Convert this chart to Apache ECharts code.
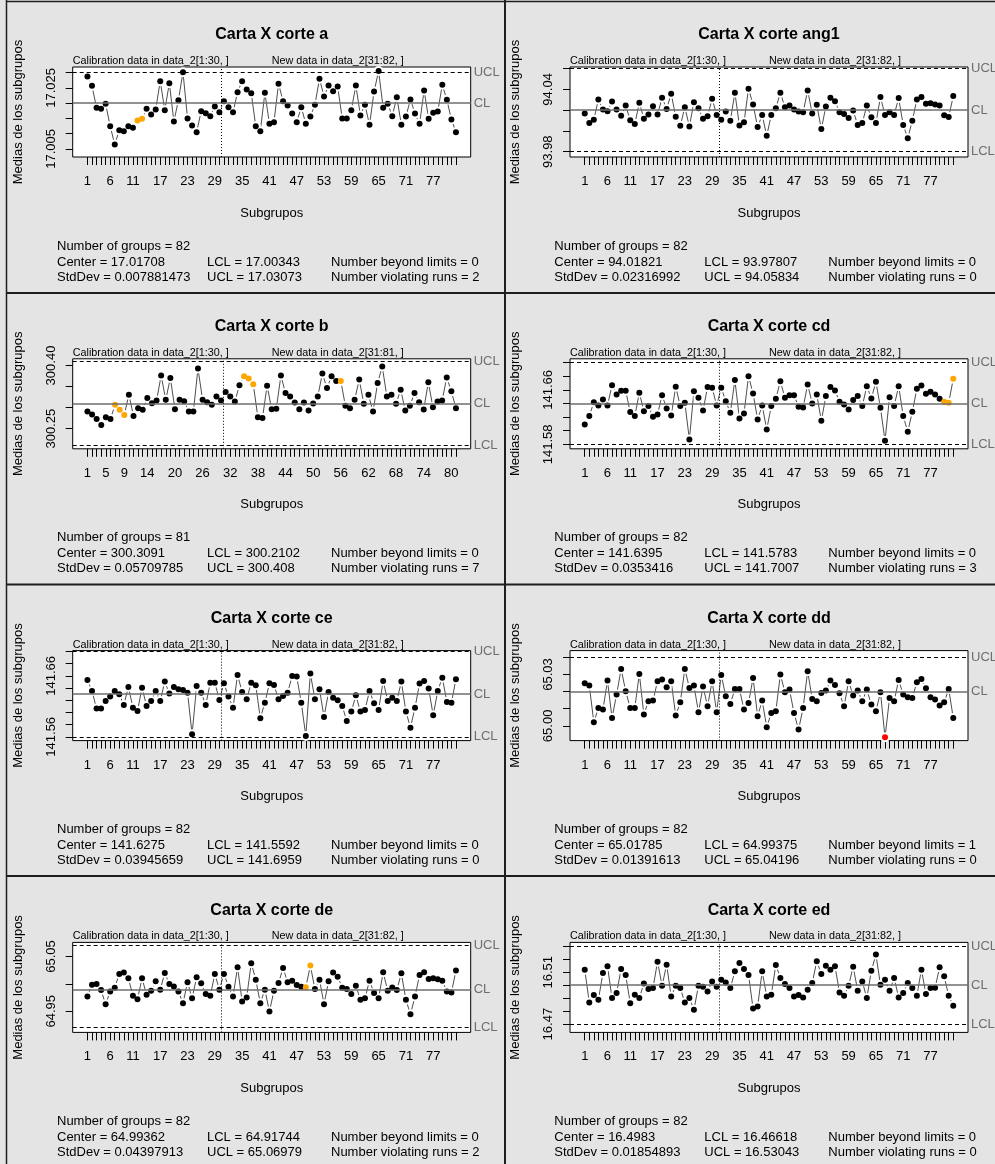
<!DOCTYPE html>
<html>
<head>
<meta charset="utf-8">
<script src="https://cdn.jsdelivr.net/npm/echarts@6/dist/echarts.min.js"></script>
<style>
  html, body { margin: 0; padding: 0; background: #e4e4e4; }
  #chart { width: 995px; height: 1164px; }
</style>
</head>
<body>
<div id="chart"></div>
<script>
// Subgroup means for each cut (X-bar charts, calibration 1:30)
const corteA = [
  17.02872, 17.02566, 17.01844, 17.01811, 17.01975, 17.01243, 17.00642, 17.01112, 17.01079, 17.01243,
  17.01189, 17.01429, 17.01484, 17.01811, 17.01626, 17.01790, 17.02719, 17.01768, 17.02653, 17.01396,
  17.02096, 17.03014, 17.01495, 17.01265, 17.01046, 17.01735, 17.01669, 17.01571, 17.01888, 17.01702,
  17.02063, 17.01866, 17.01702, 17.02358, 17.02719, 17.02445, 17.02325, 17.01243, 17.01079, 17.02336,
  17.01320, 17.01374, 17.02631, 17.02063, 17.01921, 17.01658, 17.01374, 17.01866, 17.01320, 17.01560,
  17.01943, 17.02795, 17.02216, 17.02577, 17.02391, 17.02544, 17.01495, 17.01495, 17.01768, 17.02577,
  17.01593, 17.01943, 17.01287, 17.02380, 17.03050, 17.01844, 17.01975, 17.01571, 17.02194, 17.01287,
  17.01560, 17.02117, 17.01658, 17.01320, 17.02413, 17.01484, 17.01680, 17.01724, 17.02598, 17.02107,
  17.01462, 17.01046
];
const corteAng1 = [
  94.01665, 94.00757, 94.01081, 94.03027, 94.02054, 94.01892, 94.02833, 94.02054, 94.01470, 94.02443,
  94.01016, 94.00660, 94.02703, 94.01179, 94.01568, 94.02378, 94.01568, 94.03189, 94.02119, 94.03578,
  94.01373, 94.00498, 94.02281, 94.00433, 94.02768, 94.02184, 94.01179, 94.01406, 94.03092, 94.01535,
  94.01081, 94.01860, 94.00984, 94.03676, 94.00530, 94.00822, 94.04065, 94.02541, 94.00368, 94.01535,
  93.99525, 94.01535, 94.02184, 94.03676, 94.02281, 94.02443, 94.02054, 94.01860, 94.01795, 94.03903,
  94.01665, 94.02508, 94.00173, 94.02346, 94.03189, 94.02865, 94.01795, 94.01633, 94.01243, 94.01957,
  94.00562, 94.00757, 94.02443, 94.01308, 94.00757, 94.03254, 94.01535, 94.01795, 94.01535, 94.03157,
  94.00562, 93.99298, 94.00984, 94.03027, 94.03254, 94.02606, 94.02670, 94.02541, 94.02443, 94.01503,
  94.01341, 94.03351
];
const corteB = [
  300.2907, 300.2835, 300.2731, 300.2588, 300.2771, 300.2731, 300.3066, 300.2947, 300.2827, 300.3306,
  300.2803, 300.2987, 300.2947, 300.3226, 300.3106, 300.3170, 300.3761, 300.3186, 300.3705, 300.2963,
  300.3186, 300.3154, 300.2907, 300.2907, 300.3928, 300.3186, 300.3130, 300.3066, 300.3266, 300.3170,
  300.3370, 300.3266, 300.3146, 300.3529, 300.3745, 300.3689, 300.3553, 300.2771, 300.2755, 300.3521,
  300.2963, 300.2971, 300.3761, 300.3346, 300.3266, 300.3122, 300.2963, 300.3122, 300.2931, 300.3100,
  300.3266, 300.3808, 300.3465, 300.3745, 300.3633, 300.3633, 300.3042, 300.2987, 300.3186, 300.3665,
  300.3090, 300.3306, 300.2907, 300.3585, 300.3976, 300.3266, 300.3306, 300.3090, 300.3425, 300.2931,
  300.3042, 300.3346, 300.3130, 300.2955, 300.3601, 300.3010, 300.3146, 300.3170, 300.3713, 300.3386,
  300.2987
];
const corteCd = [
  141.6091, 141.6214, 141.6419, 141.6371, 141.6459, 141.6371, 141.6669, 141.6532, 141.6586, 141.6586,
  141.6273, 141.6214, 141.6557, 141.6287, 141.6361, 141.6204, 141.6238, 141.6522, 141.6326, 141.6224,
  141.6645, 141.6361, 141.6410, 141.5871, 141.6581, 141.6483, 141.6297, 141.6640, 141.6630, 141.6371,
  141.6630, 141.6434, 141.6263, 141.6743, 141.6180, 141.6253, 141.6801, 141.6547, 141.6165, 141.6371,
  141.6018, 141.6361, 141.6468, 141.6728, 141.6483, 141.6522, 141.6522, 141.6351, 141.6341, 141.6679,
  141.6400, 141.6532, 141.6145, 141.6508, 141.6640, 141.6591, 141.6424, 141.6385, 141.6312, 141.6449,
  141.6508, 141.6361, 141.6654, 141.6473, 141.6718, 141.6336, 141.5852, 141.6493, 141.6361, 141.6654,
  141.6214, 141.5984, 141.6278, 141.6615, 141.6664, 141.6542, 141.6571, 141.6532, 141.6468, 141.6424,
  141.6410, 141.6762
];
const corteCe = [
  141.6532, 141.6352, 141.6062, 141.6062, 141.6188, 141.6259, 141.6352, 141.6297, 141.6122, 141.6417,
  141.6078, 141.6023, 141.6406, 141.6105, 141.6188, 141.6352, 141.6188, 141.6505, 141.6308, 141.6417,
  141.6379, 141.6368, 141.6324, 141.5641, 141.6434, 141.6324, 141.6122, 141.6488, 141.6488, 141.6204,
  141.6477, 141.6259, 141.6078, 141.6614, 141.6335, 141.6215, 141.6488, 141.6445, 141.5903, 141.6160,
  141.6477, 141.6450, 141.6215, 141.6270, 141.6324, 141.6598, 141.6587, 141.6160, 141.5613, 141.6636,
  141.6215, 141.6379, 141.5925, 141.6335, 141.6242, 141.6198, 141.6105, 141.5859, 141.6013, 141.6280,
  141.6013, 141.6040, 141.6352, 141.6149, 141.6040, 141.6516, 141.6188, 141.6242, 141.6188, 141.6505,
  141.6013, 141.5750, 141.6078, 141.6472, 141.6516, 141.6390, 141.5952, 141.6352, 141.6570, 141.6171,
  141.6160, 141.6543
];
const corteDd = [
  65.02485, 65.02349, 65.00210, 65.01046, 65.00949, 65.02640, 65.00463, 65.01824, 65.03321, 65.02018,
  65.01046, 65.01046, 65.03029, 65.00657, 65.01435, 65.01474, 65.02601, 65.02699, 65.02252, 65.02601,
  65.00599, 65.01377, 65.03321, 65.02213, 65.02349, 65.00794, 65.02290, 65.01143, 65.02601, 65.00794,
  65.02971, 65.01727, 65.01280, 65.02154, 65.02154, 65.00949, 65.01338, 65.02796, 65.00560, 65.01474,
  64.99919, 65.00755, 65.00852, 65.02990, 65.01960, 65.02115, 65.00755, 64.99783, 65.01046, 65.03185,
  65.01571, 65.01435, 65.01921, 65.02057, 65.02640, 65.02388, 65.01902, 65.01143, 65.02601, 65.01766,
  65.02057, 65.01435, 65.02115, 65.01241, 65.00852, 65.01960, 64.99336, 65.01629, 65.01435, 65.02679,
  65.01824, 65.01668, 65.01629, 65.02543, 65.02738, 65.02193, 65.01668, 65.01532, 65.01182, 65.01377,
  65.02154, 65.00463
];
const corteDe = [
  64.97703, 64.99853, 64.99976, 64.98871, 64.96291, 64.98625, 64.99300, 65.01819, 65.02065, 65.01021,
  64.97826, 64.97212, 65.01021, 64.98011, 64.98748, 65.00468, 64.98932, 65.02003, 64.99976, 64.99546,
  64.98625, 64.96475, 65.00283, 64.97396, 65.01205, 65.00099, 64.98133, 64.97826, 65.01819, 64.98932,
  65.01819, 64.99485, 64.97703, 65.03048, 64.96782, 64.97519, 65.03785, 65.00775, 64.96475, 64.98932,
  64.94939, 64.98748, 65.00161, 65.02925, 65.00283, 65.00591, 64.99792, 64.99485, 64.99400, 65.03355,
  64.99055, 65.00775, 64.96291, 65.00468, 65.02065, 65.01328, 64.99320, 64.99055, 64.98133, 64.99669,
  64.97089, 64.97396, 65.00591, 64.98318, 64.97396, 65.02126, 64.98748, 64.99340, 64.98871, 65.01942,
  64.97089, 64.94448, 64.97703, 65.01635, 65.02126, 65.00898, 65.01021, 65.00836, 65.00591, 64.98625,
  64.98441, 65.02434
];
const corteEd = [
  16.51197, 16.48669, 16.49237, 16.48875, 16.50939, 16.51455, 16.49004, 16.49391, 16.51249, 16.50785,
  16.48617, 16.49262, 16.49004, 16.50140, 16.49701, 16.49778, 16.51817, 16.49959, 16.51584, 16.49133,
  16.49959, 16.49778, 16.48669, 16.49004, 16.48101, 16.49959, 16.49882, 16.49520, 16.50294, 16.49882,
  16.50423, 16.50217, 16.49778, 16.51068, 16.51713, 16.51249, 16.50785, 16.48205, 16.48359, 16.51068,
  16.49133, 16.49262, 16.51559, 16.50552, 16.50088, 16.49778, 16.49133, 16.49237, 16.49056, 16.49649,
  16.50165, 16.51842, 16.50862, 16.51507, 16.51197, 16.51455, 16.49443, 16.49185, 16.49959, 16.51430,
  16.49572, 16.50294, 16.49004, 16.51120, 16.52358, 16.50036, 16.50423, 16.49572, 16.50552, 16.49056,
  16.49391, 16.50165, 16.49778, 16.49185, 16.51197, 16.49314, 16.49778, 16.49800, 16.51378, 16.50681,
  16.49185, 16.48411
];

const panelNames = ['a', 'ang1', 'b', 'cd', 'ce', 'dd', 'de', 'ed'];
const panelData = [corteA, corteAng1, corteB, corteCd, corteCe, corteDd, corteDe, corteEd];
const centers = [17.01708, 94.01821, 300.3091, 141.6395, 141.6275, 65.01785, 64.99362, 16.4983];
const lcls = [17.00343, 93.97807, 300.2102, 141.5783, 141.5592, 64.99375, 64.91744, 16.46618];
const ucls = [17.03073, 94.05834, 300.408, 141.7007, 141.6959, 65.04196, 65.06979, 16.53043];
const stdDevs = [0.007881473, 0.02316992, 0.05709785, 0.0353416, 0.03945659, 0.01391613, 0.04397913, 0.01854893];
const beyondLimits = [0, 0, 0, 0, 0, 1, 0, 0];
const violatingRuns = [2, 0, 7, 3, 0, 0, 2, 0];
// subgroup numbers flagged by the run rule and by the limits
const runPoints = [[12, 13], [], [7, 8, 9, 35, 36, 37, 56], [80, 81, 82], [], [], [49, 50], []];
const beyondPoints = [[], [], [], [], [], [67], [], []];
const calibrationSize = 30;

// axis ticks and the tick labels that are printed
const yTicks = [
  [17.005, 17.010, 17.015, 17.020, 17.025, 17.030],
  [93.98, 94.00, 94.02, 94.04, 94.06],
  [300.25, 300.30, 300.35, 300.40],
  [141.58, 141.60, 141.62, 141.64, 141.66, 141.68, 141.70],
  [141.56, 141.58, 141.60, 141.62, 141.64, 141.66, 141.68, 141.70],
  [65.00, 65.01, 65.02, 65.03, 65.04],
  [64.95, 65.00, 65.05],
  [16.47, 16.48, 16.49, 16.50, 16.51, 16.52, 16.53]
];
const yTickLabels = [
  [17.025, 17.005], [94.04, 93.98], [300.40, 300.25], [141.66, 141.58],
  [141.66, 141.56], [65.03, 65.00], [65.05, 64.95], [16.51, 16.47]
];
const yLabelDigits = [3, 2, 2, 2, 2, 2, 2, 2];
const xLabels82 = [1, 6, 11, 17, 23, 29, 35, 41, 47, 53, 59, 65, 71, 77];
const xLabels81 = [1, 5, 9, 14, 20, 26, 32, 38, 44, 50, 56, 62, 68, 74, 80];
const xTickLabels = [xLabels82, xLabels82, xLabels81, xLabels82, xLabels82, xLabels82, xLabels82, xLabels82];

const FONT = "'Liberation Sans', Arial, Helvetica, sans-serif";
const COL_STEP = 497.3, ROW_STEP = 291.8;
const BOX_LEFT = 72.7, BOX_TOP = 67, BOX_W = 398, BOX_H = 90;

const grids = [], xAxes = [], yAxes = [], series = [], graphics = [];

function text(x, y, str, font, align, extra) {
  return Object.assign({
    type: 'text', x: x, y: y, silent: true,
    style: { text: str, font: font, fill: '#000', align: align || 'left', verticalAlign: 'middle' }
  }, extra || {});
}

panelNames.forEach(function (name, i) {
  const col = i % 2, row = Math.floor(i / 2);
  const dx = col * COL_STEP, dy = row * ROW_STEP;
  const left = BOX_LEFT + dx, top = BOX_TOP + dy;
  const vals = panelData[i];
  const n = vals.length;
  const lo = Math.min(lcls[i], Math.min.apply(null, vals));
  const hi = Math.max(ucls[i], Math.max.apply(null, vals));
  const yPad = 0.04 * (hi - lo), xPad = 0.04 * (n - 1);
  const idx = vals.map(function (_, k) { return k + 1; });
  const pts = vals.map(function (v, k) { return [k + 1, v]; });
  const colored = vals.map(function (v, k) {
    const s = k + 1;
    let c = '#000';
    if (beyondPoints[i].indexOf(s) >= 0) c = '#ff0000';
    else if (runPoints[i].indexOf(s) >= 0) c = '#ffa500';
    return { value: [s, v], itemStyle: { color: c } };
  });

  grids.push({ left: left, top: top, width: BOX_W, height: BOX_H, show: true,
    backgroundColor: '#ffffff', borderColor: '#000', borderWidth: 1 });

  xAxes.push({
    gridIndex: i, type: 'value', min: 1 - xPad, max: n + xPad,
    axisLine: { show: false, onZero: false }, splitLine: { show: false },
    axisTick: { show: true, customValues: idx, length: 8, lineStyle: { color: '#000', width: 1 } },
    axisLabel: { customValues: xTickLabels[i], margin: 18, fontSize: 13, color: '#000', fontFamily: FONT }
  });
  const digits = yLabelDigits[i];
  yAxes.push({
    gridIndex: i, type: 'value', min: lo - yPad, max: hi + yPad,
    axisLine: { show: false, onZero: false }, splitLine: { show: false },
    axisTick: { show: true, customValues: yTicks[i], length: 7, lineStyle: { color: '#000', width: 1 } },
    axisLabel: { customValues: yTickLabels[i], rotate: 90, margin: 15, fontSize: 13, color: '#000',
      fontFamily: FONT, formatter: function (v) { return Number(v).toFixed(digits); } }
  });

  // connecting segments
  series.push({ type: 'line', xAxisIndex: i, yAxisIndex: i, data: pts, symbol: 'none',
    lineStyle: { color: '#3a3a3a', width: 0.9 }, z: 1, silent: true, animation: false });
  // white gap around each point, like a "b" type plot
  series.push({ type: 'scatter', xAxisIndex: i, yAxisIndex: i, data: pts, symbolSize: 10,
    itemStyle: { color: '#ffffff', opacity: 1 }, z: 2, silent: true, animation: false });
  // control limits and the calibration/new-data divider
  const dashed = { type: [4, 3], color: '#000', width: 1 };
  series.push({ type: 'line', xAxisIndex: i, yAxisIndex: i, data: [], z: 3, silent: true, animation: false,
    markLine: {
      silent: true, symbol: ['none', 'none'], animation: false,
      label: { show: true, position: 'end', distance: 3, color: '#6e6e6e', fontSize: 13, fontFamily: FONT },
      data: [
        { yAxis: ucls[i], lineStyle: dashed, label: { formatter: 'UCL' } },
        { yAxis: centers[i], lineStyle: { type: 'solid', color: '#6e6e6e', width: 1.6 }, label: { formatter: 'CL' } },
        { yAxis: lcls[i], lineStyle: dashed, label: { formatter: 'LCL' } },
        { xAxis: calibrationSize + 0.5, lineStyle: { type: [1, 2], color: '#000', width: 1 }, label: { show: false } }
      ]
    } });
  // subgroup means
  series.push({ type: 'scatter', xAxisIndex: i, yAxisIndex: i, data: colored, symbolSize: 6,
    itemStyle: { opacity: 1 }, z: 4, silent: true, animation: false });

  const cx = left + BOX_W / 2;
  graphics.push(text(cx, 35 + dy, 'Carta X corte ' + name, 'bold 16px ' + FONT, 'center'));
  graphics.push(text(left, 61 + dy, 'Calibration data in data_2[1:' + calibrationSize + ', ]', '10.8px ' + FONT));
  graphics.push(text(cx, 61 + dy, 'New data in data_2[' + (calibrationSize + 1) + ':' + n + ', ]', '10.8px ' + FONT));
  graphics.push(text(cx, 213 + dy, 'Subgrupos', '13px ' + FONT, 'center'));
  graphics.push(text(18.5 + dx, top + BOX_H / 2, 'Medias de los subgrupos', '13px ' + FONT, 'center',
    { rotation: Math.PI / 2 }));

  const f = '13px ' + FONT;
  graphics.push(text(57 + dx, 246 + dy, 'Number of groups = ' + n, f));
  graphics.push(text(57 + dx, 262 + dy, 'Center = ' + centers[i], f));
  graphics.push(text(57 + dx, 277 + dy, 'StdDev = ' + stdDevs[i], f));
  graphics.push(text(207 + dx, 262 + dy, 'LCL = ' + lcls[i], f));
  graphics.push(text(207 + dx, 277 + dy, 'UCL = ' + ucls[i], f));
  graphics.push(text(331 + dx, 262 + dy, 'Number beyond limits = ' + beyondLimits[i], f));
  graphics.push(text(331 + dx, 277 + dy, 'Number violating runs = ' + violatingRuns[i], f));
});

// frame lines between the panels
function rule(x1, y1, x2, y2, w) {
  return { type: 'line', silent: true, shape: { x1: x1, y1: y1, x2: x2, y2: y2 },
    style: { stroke: '#1e1e1e', lineWidth: w } };
}
graphics.push(rule(6.5, 0, 6.5, 1164, 1.5));
graphics.push(rule(505, 0, 505, 1164, 2));
graphics.push(rule(6, 1.5, 995, 1.5, 1.5));
graphics.push(rule(6, 293, 995, 293, 2));
graphics.push(rule(6, 584.5, 995, 584.5, 2));
graphics.push(rule(6, 876, 995, 876, 2));

const chart = echarts.init(document.getElementById('chart'), null, { renderer: 'canvas' });
chart.setOption({
  backgroundColor: '#e4e4e4',
  animation: false,
  textStyle: { fontFamily: FONT },
  grid: grids,
  xAxis: xAxes,
  yAxis: yAxes,
  series: series,
  graphic: { elements: graphics }
});
</script>
</body>
</html>
